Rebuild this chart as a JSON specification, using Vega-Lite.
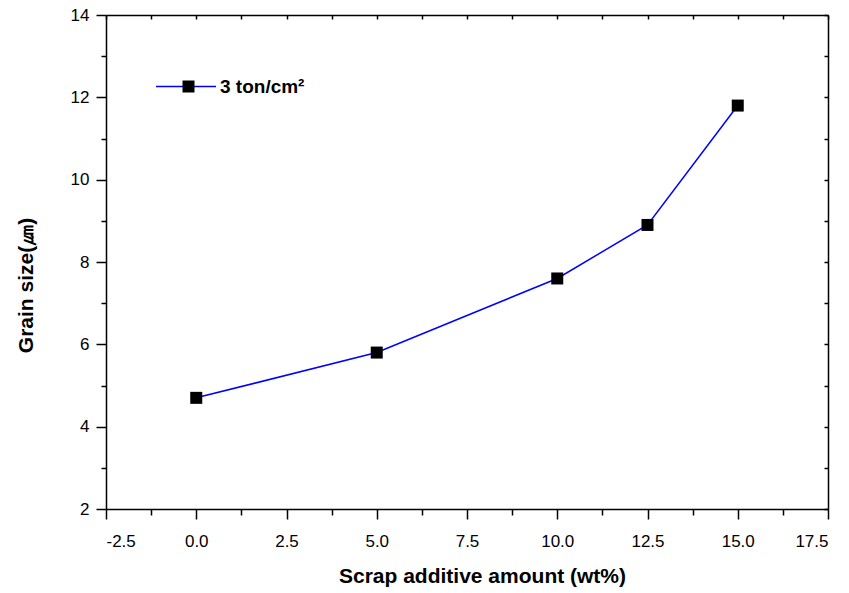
{
  "$schema": "https://vega.github.io/schema/vega-lite/v6.json",
  "width": 722,
  "height": 494,
  "autosize": {"type": "none"},
  "padding": {"left": 106, "top": 15, "right": 21, "bottom": 84},
  "background": "white",
  "config": {
    "view": {"stroke": null},
    "axis": {
      "grid": false,
      "domainColor": "black",
      "domainWidth": 1.5,
      "tickColor": "black",
      "tickWidth": 1.5,
      "labelColor": "black",
      "titleColor": "black",
      "labelFont": "Liberation Sans",
      "titleFont": "Liberation Sans",
      "labelFontSize": 17,
      "titleFontSize": 21,
      "titleFontWeight": "bold"
    },
    "legend": {"labelFont": "Liberation Sans", "labelColor": "black"}
  },
  "data": {
    "values": [
      {"x": 0, "y": 4.7},
      {"x": 5, "y": 5.8},
      {"x": 10, "y": 7.6},
      {"x": 12.5, "y": 8.9},
      {"x": 15, "y": 11.8}
    ]
  },
  "resolve": {"axis": {"x": "independent", "y": "independent"}},
  "layer": [
    {
      "mark": {"type": "line", "strokeWidth": 1.5},
      "encoding": {
        "x": {
          "field": "x", "type": "quantitative",
          "scale": {"domain": [-2.5, 17.5], "nice": false, "zero": false},
          "axis": {
            "orient": "bottom",
            "values": [-2.5, 0, 2.5, 5, 7.5, 10, 12.5, 15, 17.5],
            "labelExpr": "replace(format(datum.value, '.1f'), '\u2212', '-')",
            "tickSize": 10,
            "labelPadding": 14,
            "title": "Scrap additive amount (wt%)",
            "titlePadding": 16,
            "titleX": 376
          }
        },
        "y": {
          "field": "y", "type": "quantitative",
          "scale": {"domain": [2, 14], "nice": false, "zero": false},
          "axis": {
            "orient": "left",
            "values": [2, 4, 6, 8, 10, 12, 14],
            "tickSize": 10,
            "labelPadding": 7,
            "title": "Grain size(㎛)",
            "titlePadding": 34,
            "titleY": 270
          }
        },
        "color": {
          "datum": "line",
          "scale": {"range": ["#0000ff"]},
          "legend": {
            "orient": "none",
            "legendX": 49,
            "legendY": 40.5,
            "title": null,
            "padding": 0,
            "symbolType": "stroke",
            "symbolSize": 3600,
            "symbolStrokeWidth": 1.5,
            "labelFontSize": 19,
            "labelExpr": "''"
          }
        }
      }
    },
    {
      "mark": {"type": "point", "shape": "square", "filled": true, "color": "black", "size": 144, "opacity": 1},
      "encoding": {
        "x": {
          "field": "x", "type": "quantitative",
          "axis": {
            "orient": "bottom",
            "values": [-1.25, 1.25, 3.75, 6.25, 8.75, 11.25, 13.75, 16.25],
            "labels": false,
            "domain": false,
            "tickSize": 6,
            "title": null
          }
        },
        "y": {
          "field": "y", "type": "quantitative",
          "axis": {
            "orient": "left",
            "values": [3, 5, 7, 9, 11, 13],
            "labels": false,
            "domain": false,
            "tickSize": 5,
            "title": null
          }
        },
        "shape": {
          "datum": "3 ton/cm²",
          "scale": {"range": ["square"]},
          "legend": {
            "orient": "none",
            "legendX": 73,
            "legendY": 62,
            "title": null,
            "padding": 0,
            "symbolFillColor": "black",
            "symbolStrokeColor": "black",
            "symbolStrokeWidth": 0,
            "symbolSize": 144,
            "labelFontSize": 19,
            "labelFontWeight": "bold",
            "labelOffset": 22
          }
        }
      }
    },
    {
      "mark": {"type": "point", "opacity": 0},
      "encoding": {
        "x": {
          "field": "x", "type": "quantitative",
          "axis": {
            "orient": "top",
            "values": [-2.5, -1.25, 0, 1.25, 2.5, 3.75, 5, 6.25, 7.5, 8.75, 10, 11.25, 12.5, 13.75, 15, 16.25, 17.5],
            "labels": false,
            "tickSize": -4,
            "title": null
          }
        },
        "y": {
          "field": "y", "type": "quantitative",
          "axis": {
            "orient": "right",
            "values": [2, 3, 4, 5, 6, 7, 8, 9, 10, 11, 12, 13, 14],
            "labels": false,
            "tickSize": -4,
            "title": null
          }
        }
      }
    }
  ]
}
